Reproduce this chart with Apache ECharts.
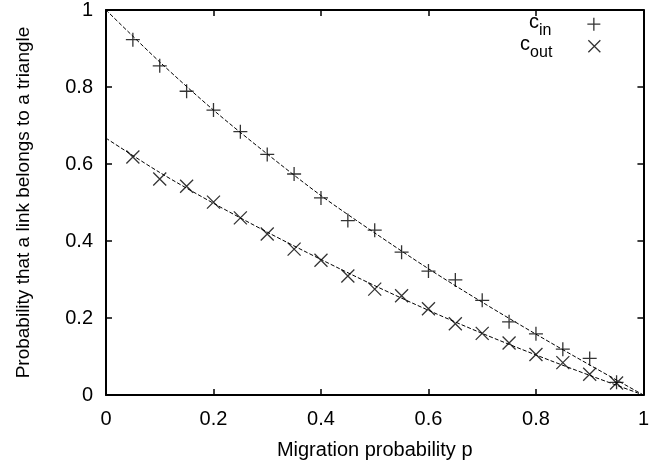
<!DOCTYPE html>
<html>
<head>
<meta charset="utf-8">
<script src="https://cdn.jsdelivr.net/npm/echarts@6/dist/echarts.min.js"></script>
<style>html,body{margin:0;padding:0;background:#fff;}#chart{width:652px;height:465px;}</style>
</head>
<body>
<div id="chart"></div>
<script>
// Simulation points
var pValues = [0.05, 0.10, 0.15, 0.20, 0.25, 0.30, 0.35, 0.40, 0.45, 0.50, 0.55, 0.60, 0.65, 0.70, 0.75, 0.80, 0.85, 0.90, 0.95];
var cinValues = [0.923, 0.855, 0.789, 0.740, 0.684, 0.625, 0.574, 0.512, 0.453, 0.428, 0.371, 0.322, 0.299, 0.246, 0.190, 0.159, 0.119, 0.095, 0.033];
var coutValues = [0.618, 0.561, 0.542, 0.501, 0.460, 0.418, 0.379, 0.350, 0.309, 0.275, 0.258, 0.224, 0.185, 0.160, 0.135, 0.105, 0.084, 0.054, 0.031];
// Theoretical (dashed) curves
var fitP = [0, 0.1, 0.2, 0.3, 0.4, 0.5, 0.6, 0.7, 0.8, 0.9, 1.0];
var fitIn = [1.0, 0.865, 0.740, 0.626, 0.518, 0.421, 0.328, 0.241, 0.158, 0.078, 0.0];
var fitOut = [0.667, 0.578, 0.498, 0.423, 0.352, 0.284, 0.220, 0.160, 0.104, 0.051, 0.0];
var axisTicks = [0, 0.2, 0.4, 0.6, 0.8, 1];
var seriesNames = ['c_in', 'c_out'];

var FONT = "'Liberation Sans', Arial, sans-serif";
var FS = 20;
var plusPath = 'path://M5,0L5,10M0,5L10,5';
var crossPath = 'path://M0,0L10,10M10,0L0,10';
// legend icons: same glyphs, with an empty lower part so the glyph sits at the main-letter level
var plusIcon = 'path://M5,0L5,10M0,5L10,5M5,22L5,22';
var crossIcon = 'path://M0,0L10,10M10,0L0,10M5,23L5,23';

function pairs(xs, ys) { return xs.map(function (x, i) { return [x, ys[i]]; }); }

function legendFormatter(name) {
  return name === 'c_in' ? '{m|c}{s|in}' : '{m|c}{s|out}';
}
var legendRich = {
  m: { fontSize: 20, fontFamily: FONT, color: '#000', lineHeight: 14, verticalAlign: 'bottom', padding: [4, 0, 7, 0] },
  s: { fontSize: 16, fontFamily: FONT, color: '#000', lineHeight: 14, verticalAlign: 'bottom', padding: [0, 31, 0, 0] }
};

function mkAxis(base, extra) {
  return Object.assign({
    type: 'value', min: 0, max: 1, interval: 0.2,
    axisLine: { show: true, onZero: false, lineStyle: { color: '#000', width: 2 } },
    axisTick: { show: true, inside: true, length: 6, lineStyle: { color: '#000', width: 1.5 } },
    splitLine: { show: false },
    axisLabel: { show: false }
  }, base, extra || {});
}

var chart = echarts.init(document.getElementById('chart'), null, { renderer: 'canvas' });
chart.setOption({
  backgroundColor: '#fff',
  animation: false,
  grid: { left: 106, right: 5, top: 5, bottom: 69, containLabel: false },
  legend: [
    { data: [{ name: seriesNames[0], icon: plusIcon }], orient: 'vertical', align: 'right', right: 51, top: 8, padding: 0,
      itemWidth: 13, itemHeight: 29, formatter: legendFormatter, textStyle: { rich: legendRich },
      itemStyle: { color: 'transparent', borderColor: '#000', borderWidth: 1.3 } },
    { data: [{ name: seriesNames[1], icon: crossIcon }], orient: 'vertical', align: 'right', right: 51, top: 30, padding: 0,
      itemWidth: 12, itemHeight: 28, formatter: legendFormatter, textStyle: { rich: legendRich },
      itemStyle: { color: 'transparent', borderColor: '#000', borderWidth: 1.3 } }
  ],
  xAxis: [
    mkAxis({ position: 'bottom',
      name: 'Migration probability p', nameLocation: 'middle', nameGap: 45,
      nameTextStyle: { fontSize: FS, fontFamily: FONT, color: '#000' },
      axisLabel: { show: true, fontSize: FS, fontFamily: FONT, color: '#000', margin: 14,
        formatter: function (v) { return axisTicks.indexOf(+v.toFixed(1)) >= 0 ? String(+v.toFixed(1)) : ''; } } }),
    mkAxis({ position: 'top' })
  ],
  yAxis: [
    mkAxis({ position: 'left',
      name: 'Probability that a link belongs to a triangle', nameLocation: 'middle', nameGap: 73,
      nameTextStyle: { fontSize: 19, fontFamily: FONT, color: '#000' },
      axisLabel: { show: true, fontSize: FS, fontFamily: FONT, color: '#000', margin: 13,
        formatter: function (v) { return String(+v.toFixed(1)); } } }),
    mkAxis({ position: 'right' })
  ],
  series: [
    { name: 'fit_in', type: 'line', xAxisIndex: 0, yAxisIndex: 0, data: pairs(fitP, fitIn), smooth: 0.3,
      showSymbol: false, silent: true, lineStyle: { color: '#000', width: 1, type: [4, 2] }, z: 2 },
    { name: 'fit_out', type: 'line', xAxisIndex: 0, yAxisIndex: 0, data: pairs(fitP, fitOut), smooth: 0.3,
      showSymbol: false, silent: true, lineStyle: { color: '#000', width: 1, type: [4, 2] }, z: 2 },
    { name: seriesNames[0], type: 'scatter', xAxisIndex: 0, yAxisIndex: 0, data: pairs(pValues, cinValues),
      symbol: plusPath, symbolSize: 14,
      itemStyle: { color: 'transparent', borderColor: '#000', borderWidth: 1.3 }, z: 3 },
    { name: seriesNames[1], type: 'scatter', xAxisIndex: 0, yAxisIndex: 0, data: pairs(pValues, coutValues),
      symbol: crossPath, symbolSize: 13,
      itemStyle: { color: 'transparent', borderColor: '#000', borderWidth: 1.3 }, z: 3 }
  ]
});
</script>
</body>
</html>
